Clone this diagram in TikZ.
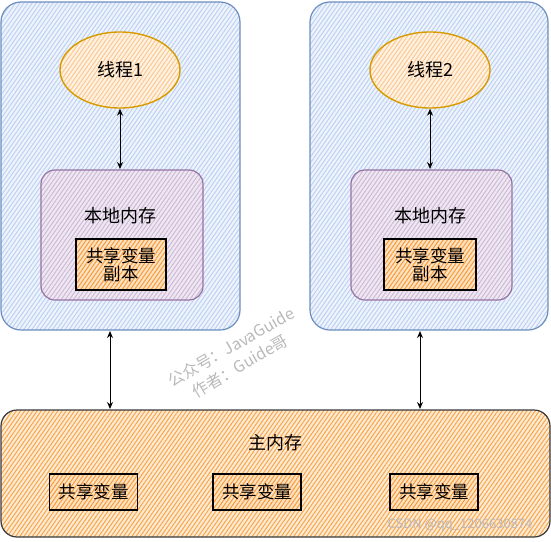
\documentclass[tikz,border=0pt]{standalone}
\usepackage{fontspec}
\setmainfont{Noto Sans CJK SC}
\usetikzlibrary{patterns.meta,arrows.meta,shapes.geometric}
\definecolor{blueF}{HTML}{EEF3FC}
\definecolor{blueH}{HTML}{BDD2F2}
\definecolor{blueS}{HTML}{6C8EBF}
\definecolor{orF}{HTML}{FFF2E2}
\definecolor{orH}{HTML}{FBC993}
\definecolor{orS}{HTML}{D79B00}
\definecolor{puF}{HTML}{EFE8F2}
\definecolor{puH}{HTML}{CDBAD6}
\definecolor{puS}{HTML}{9673A6}
\definecolor{boxF}{HTML}{FFE3C2}
\definecolor{boxH}{HTML}{F79A3C}
\definecolor{mainF}{HTML}{FFEBD4}
\definecolor{mainH}{HTML}{F8A54B}
\definecolor{mainS}{HTML}{36393D}
\tikzset{
  hatch/.style 2 args={postaction={pattern={Lines[angle=55,distance=3.4pt,line width=1pt]},pattern color=#1},postaction={draw=#2}},
  outerbox/.style={line width=1.2pt,fill=blueF,hatch={blueH}{blueS},rounded corners=20pt},
  thread/.style={ellipse,line width=1.4pt,fill=orF,hatch={orH}{orS},minimum width=120pt,minimum height=76pt,font=\fontsize{18pt}{20pt}\selectfont},
  localbox/.style={line width=1.2pt,fill=puF,hatch={puH}{puS},rounded corners=14pt},
  varbox/.style={line width=1.2pt,fill=boxF,hatch={boxH}{black},align=center,inner sep=2pt,font=\fontsize{17.5pt}{21pt}\selectfont},
  mainbox/.style={line width=1.2pt,fill=mainF,hatch={mainH}{mainS},rounded corners=16pt},
  lbl/.style={font=\fontsize{18pt}{20pt}\selectfont},
  link/.style={{Stealth[open,length=7pt,width=6pt]}-{Stealth[open,length=7pt,width=6pt]},line width=1pt},
  wm/.style={text=gray!55,font=\fontsize{16pt}{18pt}\selectfont}
}
\begin{document}
\begin{tikzpicture}[x=1pt,y=-1pt]
\useasboundingbox (0,0) rectangle (551,541);
% outer boxes
\path[outerbox] (1,2) rectangle (240,330);
\path[outerbox] (310,2) rectangle (548,330);
\coordinate (o1b) at (110,331);
\coordinate (o2b) at (420,331);
% threads
\node[thread] (t1) at (120,70) {线程1};
\node[thread] (t2) at (430,70) {线程2};
% local memory boxes
\path[localbox] (41,170) rectangle (203,300);
\path[localbox] (351,170) rectangle (512,300);
\coordinate (l1t) at (120,169);
\coordinate (l2t) at (430,169);
\node[lbl] (lm1) at (120,216) {本地内存};
\node[lbl] (lm2) at (430,216) {本地内存};
\node[varbox,minimum width=90pt,minimum height=51pt] (c1) at (121,264.5) {共享变量\\[-3pt]副本};
\node[varbox,minimum width=92pt,minimum height=51pt] (c2) at (430,264.5) {共享变量\\[-3pt]副本};
% main memory
\path[mainbox] (1,410) rectangle (550,537);
\coordinate (m1) at (110,409);
\coordinate (m2) at (420,409);
\node[lbl] (mm) at (275,443) {主内存};
\node[varbox,minimum width=88pt,minimum height=36pt] (v1) at (93.5,492) {共享变量};
\node[varbox,minimum width=88pt,minimum height=36pt] (v2) at (257,492) {共享变量};
\node[varbox,minimum width=88pt,minimum height=36pt] (v3) at (434,492) {共享变量};
% arrows
\draw[link] (t1.south) -- (l1t);
\draw[link] (t2.south) -- (l2t);
\draw[link] (o1b) -- (m1);
\draw[link] (o2b) -- (m2);
% watermarks
\node[wm,rotate=30,anchor=center] (w1) at (231,347) {公众号：JavaGuide};
\node[wm,rotate=30,anchor=center] (w2) at (240,366) {作者：Guide哥};
\node[wm,font=\fontsize{13pt}{15pt}\selectfont] (w3) at (460,525) {CSDN @qq\_1206630874};
\end{tikzpicture}
\end{document}
